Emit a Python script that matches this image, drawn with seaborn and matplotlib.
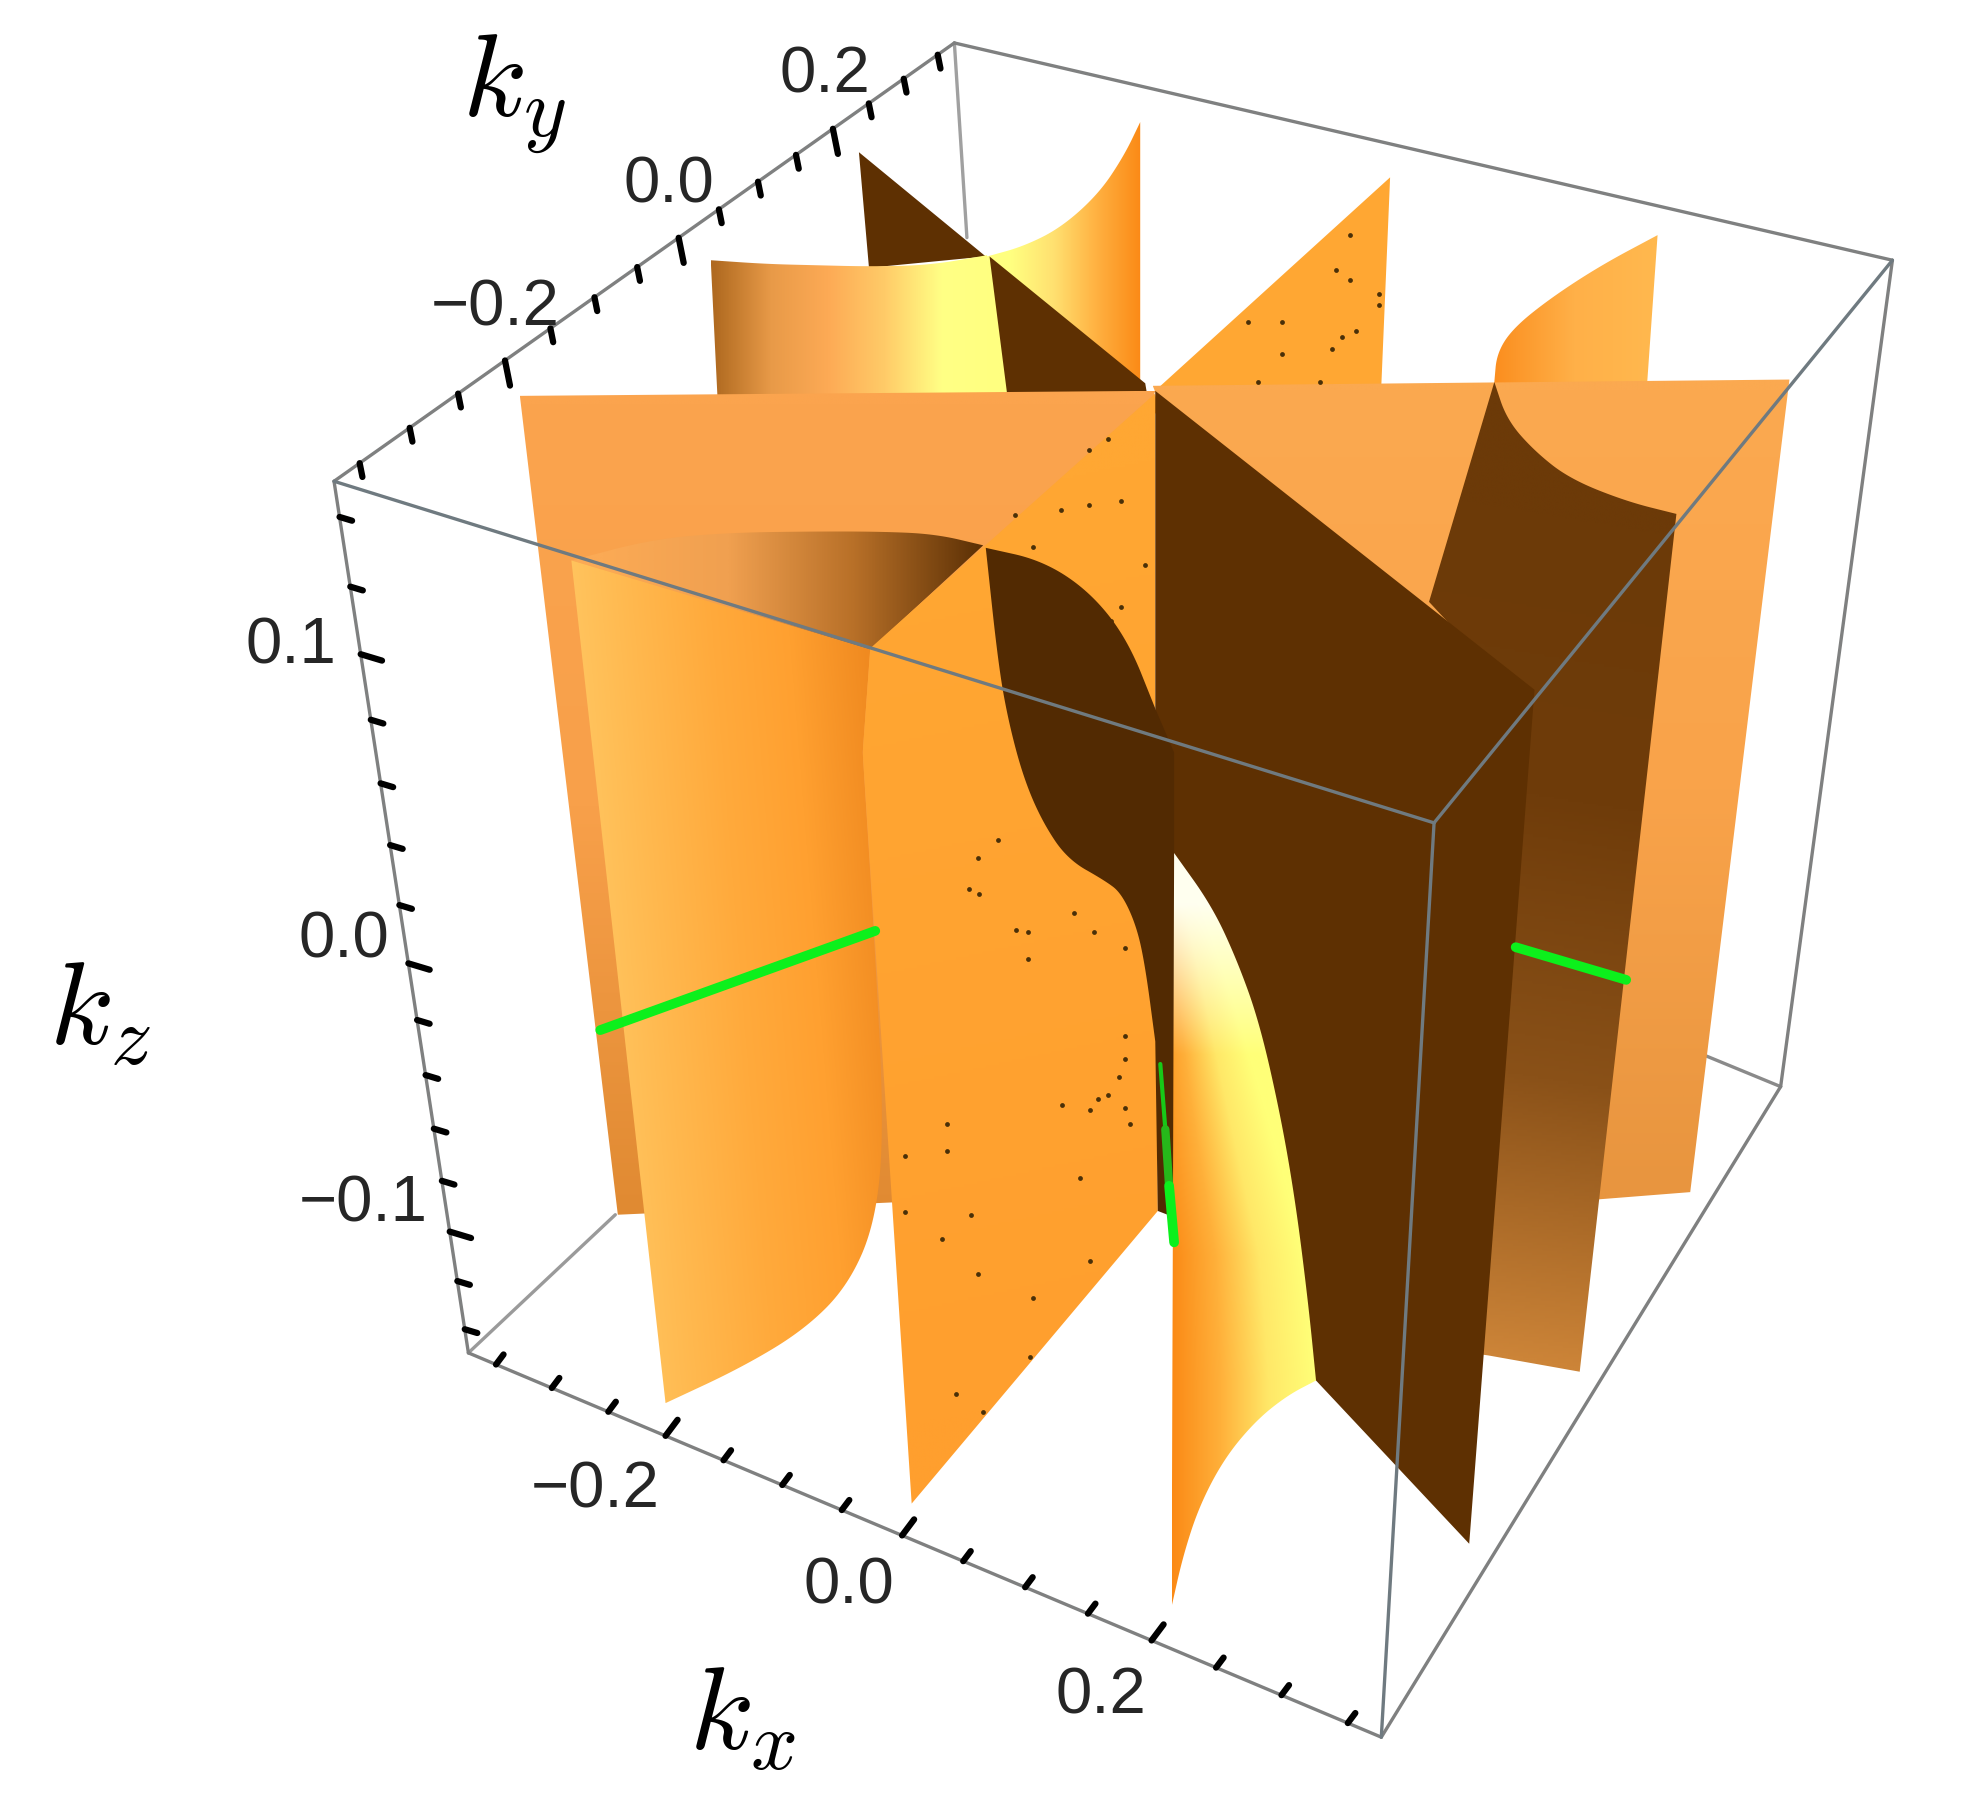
import numpy as np
import seaborn as sns
import matplotlib
matplotlib.use("Agg")
import matplotlib.pyplot as plt
from matplotlib.colors import LinearSegmentedColormap
from matplotlib.patches import Polygon

sns.set_theme(style="white")
plt.rcParams['font.family'] = ['Liberation Sans', 'DejaVu Sans']
plt.rcParams['mathtext.fontset'] = 'cm'

# box corners
A, B, C, D = (266, 384), (760, 35), (1507, 208), (1142, 656)
E, F, G = (373, 1078), (1100, 1384), (1418, 866)

x_ticks = np.arange(-0.35, 0.351, 0.05)
y_ticks = np.arange(-0.35, 0.351, 0.05)
z_ticks = np.arange(-0.14, 0.141, 0.02)
x_labels = ["\u22120.2", "0.0", "0.2"]
y_labels = ["\u22120.2", "0.0", "0.2"]
z_labels = ["0.1", "0.0", "\u22120.1"]

# sheet outlines, curved runs are kept apart from the straight ones
back_dark_x = [684, 785, 692]
back_dark_y = [122, 205, 214]
back_curve_x = [786, 815, 845, 875, 895, 908]
back_curve_y = [205, 197, 182, 155, 125, 98]
back_left_x = [566, 610, 650, 692, 740, 786]
back_left_y = [208, 211, 212, 213, 212, 204]
back_wedge_x = [788, 912, 916, 804]
back_wedge_y = [205, 306, 330, 330]
back_tri_x = [922, 1107, 1100, 1100, 916]
back_tri_y = [310, 142, 308, 330, 330]
back_right_x = [1190, 1192, 1205, 1235, 1275, 1320]
back_right_y = [305, 282, 262, 238, 212, 188]
flat_left_x = [414, 920, 715, 492]
flat_left_y = [316, 312, 958, 968]
flat_right_x = [918, 1425, 1346, 1270, 1180]
flat_right_y = [308, 303, 950, 956, 960]
right_curve_x = [1190, 1200, 1222, 1250, 1295, 1335]
right_curve_y = [305, 335, 360, 382, 400, 410]
cyl_top_x = [455, 520, 580, 640, 700, 745, 783]
cyl_top_y = [447, 430, 425, 424, 424, 426, 435]
cyl_edge_x = [687, 697, 704, 697, 675, 640, 590, 530]
cyl_edge_y = [600, 760, 900, 975, 1025, 1060, 1090, 1118]
mid_x = [920, 693, 687, 726, 922, 920]
mid_y = [314, 517, 600, 1198, 965, 565]
big_dark_x = [920, 1222, 1170, 1048, 935, 920]
big_dark_y = [312, 550, 1230, 1100, 970, 565]
s_top_x = [785, 830, 868, 898, 920]
s_top_y = [437, 447, 472, 510, 565]
s_side_x = [920, 912, 905, 893, 880, 850, 830, 815, 803, 795, 785]
s_side_y = [830, 770, 738, 712, 702, 685, 655, 620, 575, 530, 437]
front_edge_x = [935, 965, 985, 1003, 1020, 1032, 1042, 1048]
front_edge_y = [680, 722, 765, 815, 890, 960, 1040, 1100]
front_base_x = [1048, 1025, 1000, 975, 955, 942, 933]
front_base_y = [1100, 1112, 1132, 1162, 1200, 1240, 1280]

# green lines
green_left_x, green_left_y = [478, 697], [821, 742]
green_right_x, green_right_y = [1207, 1295], [755, 781]
green_mid_x, green_mid_y = [924, 928, 931, 935], [848, 900, 945, 990]

# specks on the orange sheets
dots_x = [1075, 1064, 1075, 1098, 1098, 994, 1021, 1069, 1080, 1061, 1021, 1002, 1051,
          882, 867, 845, 867, 893, 808, 823, 912, 893, 885,
          795, 779, 772, 780, 809, 819, 819, 855, 871, 896, 896, 896, 891, 882, 874, 868,
          846, 896, 900, 754, 754, 721, 721, 750, 773, 860, 868, 779, 823, 820, 761, 783]
dots_y = [188, 216, 224, 235, 244, 257, 257, 269, 264, 279, 283, 305, 305,
          350, 359, 407, 403, 400, 411, 436, 451, 484, 495,
          670, 684, 709, 713, 741, 743, 764, 728, 743, 756, 826, 844, 858, 873, 876, 885,
          881, 883, 896, 896, 917, 921, 966, 987, 968, 939, 1005, 1015, 1034, 1081, 1111, 1125]


def smooth(xs, ys, n=4):
    # corner cutting, the two end points stay where they are
    pts = np.column_stack([xs, ys]).astype(float)
    for _ in range(n):
        a, b = pts[:-1], pts[1:]
        cut = np.empty((2 * len(a), 2))
        cut[0::2] = 0.75 * a + 0.25 * b
        cut[1::2] = 0.25 * a + 0.75 * b
        pts = np.vstack([pts[0], cut, pts[-1]])
    return pts


def clip_image(ax, outline, rgba, z):
    poly = Polygon(outline, closed=True, transform=ax.transData, fc="none", ec="none")
    ax.add_patch(poly)
    x0, y0 = outline.min(axis=0)
    x1, y1 = outline.max(axis=0)
    im = ax.imshow(rgba, extent=(x0, x1, y1, y0), aspect="auto", zorder=z, interpolation="bilinear")
    im.set_clip_path(poly)


def shade(ax, outline, stops, start, end, z):
    # polygon filled with a linear gradient from start to end
    x0, y0 = outline.min(axis=0)
    x1, y1 = outline.max(axis=0)
    gx, gy = np.meshgrid(np.linspace(x0, x1, 400), np.linspace(y0, y1, 400))
    dx, dy = end[0] - start[0], end[1] - start[1]
    t = ((gx - start[0]) * dx + (gy - start[1]) * dy) / (dx * dx + dy * dy)
    cmap = LinearSegmentedColormap.from_list("s", stops)
    clip_image(ax, outline, cmap(np.clip(t, 0, 1)), z)


def pts(xs, ys):
    return np.column_stack([xs, ys]).astype(float)


def along(p, q, t, lim, k):
    # position of value t on a box edge, with a bit of perspective
    s = (t + lim) / (2 * lim)
    s = s / (s + k * (1 - s))
    return p[0] + s * (q[0] - p[0]), p[1] + s * (q[1] - p[1])


def edge(ax, p, q, color="#7f8080", lw=2.4, z=20):
    sns.lineplot(x=[p[0], q[0]], y=[p[1], q[1]], color=color, linewidth=lw, ax=ax,
                 sort=False, estimator=None, zorder=z, legend=False)


fig = plt.figure(figsize=(19.69, 18.06), dpi=100)
ax = fig.add_axes([0, 0, 1, 1])

# box edges behind the sheets
edge(ax, B, (770, 190), color="#a0a0a0", z=1)
edge(ax, E, (490, 968), color="#9a9a9a", z=1)
edge(ax, G, (1350, 838), color="#8a8a8a", z=1)

ax.fill(back_dark_x, back_dark_y, color="#5e3002", lw=0, zorder=2)
out = np.vstack([smooth(back_curve_x, back_curve_y), [[908, 330], [800, 330]]])
shade(ax, out, ["#ffff80", "#ffe070", "#ffb040", "#fb8a16"], (805, 200), (908, 200), 2)
out = np.vstack([smooth(back_left_x, back_left_y), [[806, 330], [572, 330]]])
shade(ax, out, ["#b06a20", "#e89a48", "#fdaa55", "#ffcb68", "#ffff85", "#ffff80"], (568, 260), (795, 260), 3)
ax.fill(back_wedge_x, back_wedge_y, color="#5e3002", lw=0, zorder=3)
ax.fill(back_tri_x, back_tri_y, color="#ffa733", lw=0, zorder=3)
out = np.vstack([smooth(back_right_x, back_right_y), [[1310, 330], [1186, 330]]])
shade(ax, out, ["#fb8f20", "#ffb048", "#ffb84e"], (1192, 260), (1315, 260), 3)

shade(ax, pts(flat_left_x, flat_left_y), ["#fba44e", "#f8a04a", "#e08a32"], (600, 320), (600, 968), 4)
shade(ax, pts(flat_right_x, flat_right_y), ["#fba950", "#f9a34a", "#e8953f"], (1300, 310), (1300, 950), 4)
out = np.vstack([smooth(right_curve_x, right_curve_y), [[1258, 1093], [1185, 1080], [1170, 1078], [1205, 552], [1138, 480]]])
shade(ax, out, ["#6c3a08", "#6f3c0a", "#8a5118", "#cc8438"], (1300, 420), (1190, 1080), 5)

out = np.vstack([smooth(cyl_top_x, cyl_top_y), [[693, 518]]])
shade(ax, out, ["#fbaa55", "#f0a050", "#b87028", "#5e3206"], (480, 430), (780, 430), 6)
out = np.vstack([[[455, 447], [693, 518]], smooth(cyl_edge_x, cyl_edge_y)])
shade(ax, out, ["#ffc762", "#ffb84e", "#ffaa3c", "#ffa030", "#f08a20"], (460, 700), (705, 680), 6)
shade(ax, pts(mid_x, mid_y), ["#ffa733", "#ff9f2e"], (750, 400), (900, 1100), 7)
sns.scatterplot(x=dots_x, y=dots_y, s=12, color="#4a3008", linewidth=0, ax=ax, zorder=8, legend=False)

ax.fill(big_dark_x, big_dark_y, color="#5e3002", lw=0, zorder=9)
s_out = np.vstack([smooth(s_top_x, s_top_y), [[935, 600], [935, 970], [922, 965]], smooth(s_side_x, s_side_y)])
ax.fill(s_out[:, 0], s_out[:, 1], color="#522a02", lw=0, zorder=9)

# the bright front sheet: orange to yellow across it, cream near the tip
edge_pts = smooth(front_edge_x, front_edge_y)
base_pts = smooth(front_base_x, front_base_y)
out = np.vstack([edge_pts, base_pts])
fx, fy = np.meshgrid(np.linspace(933, 1048, 400), np.linspace(680, 1280, 600))
right = np.interp(fy, edge_pts[:, 1], edge_pts[:, 0])
u = (fx - 933) / (right - 933)
u = u + np.clip((1000 - fy) / 400, 0, 1) * 0.5
cmap = LinearSegmentedColormap.from_list("f", ["#fb8a16", "#ffb03a", "#ffe868", "#ffff78"])
rgba = cmap(np.clip(u, 0, 1))
cream = np.clip((840 - fy) / 120, 0, 1)[..., None]
rgba[..., :3] = rgba[..., :3] * (1 - cream) + np.array([1.0, 1.0, 0.94]) * cream
clip_image(ax, out, rgba, 10)

# green lines
for gx, gy, lw in [(green_left_x, green_left_y, 7), (green_right_x, green_right_y, 7)]:
    sns.lineplot(x=gx, y=gy, color="#0cf01c", linewidth=lw, ax=ax, sort=False,
                 estimator=None, zorder=11, legend=False)
sns.lineplot(x=green_mid_x[:2], y=green_mid_y[:2], color="#18c818", linewidth=3, ax=ax, sort=False,
             estimator=None, zorder=11, legend=False)
sns.lineplot(x=green_mid_x[1:3], y=green_mid_y[1:3], color="#26b81a", linewidth=6, ax=ax, sort=False,
             estimator=None, zorder=11, legend=False)
sns.lineplot(x=green_mid_x[2:], y=green_mid_y[2:], color="#0cf01c", linewidth=7, ax=ax, sort=False,
             estimator=None, zorder=11, legend=False)

# box edges in front
for p, q in [(A, B), (B, C), (A, E), (E, F), (F, G), (C, G)]:
    edge(ax, p, q)
for p, q in [(A, D), (D, C), (D, F)]:
    edge(ax, p, q, color="#6f7a80")

# ticks along the edges
for t in x_ticks:
    px, py = along(E, F, t, 0.375, 1.105)
    n = 1.6 if abs(t / 0.2 - round(t / 0.2)) < 1e-6 else 1
    edge(ax, (px, py), (px + 6 * n, py - 8 * n), color="black", lw=4.5, z=21)
for t in y_ticks:
    px, py = along(A, B, t, 0.375, 0.80)
    n = 2 if abs(t / 0.2 - round(t / 0.2)) < 1e-6 else 1.1
    edge(ax, (px, py), (px + 2 * n, py + 10 * n), color="black", lw=4.5, z=21)
for t in z_ticks:
    px, py = along(A, E, t, 0.15, 0.808)
    n = 1.7 if abs(t / 0.1 - round(t / 0.1)) < 1e-6 else 1
    edge(ax, (px, py), (px + 10 * n, py + 3 * n), color="black", lw=4.5, z=21)

# tick labels
tick_txt = dict(fontsize=47, color="#262626", ha="center", va="center", zorder=22)
for s, tx, ty in zip(x_labels, [474, 676, 877], [1187, 1263, 1351]):
    ax.text(tx, ty, s, **tick_txt)
for s, tx, ty in zip(y_labels, [394, 533, 657], [246, 148, 60]):
    ax.text(tx, ty, s, **tick_txt)
for s, tx, ty in zip(z_labels, [232, 274, 289], [515, 749, 959]):
    ax.text(tx, ty, s, **tick_txt)

# axis labels
label_txt = dict(fontsize=85, color="black", ha="center", va="center", zorder=22)
ax.text(591, 1369, r"$k_x$", **label_txt)
ax.text(409, 75, r"$k_y$", **label_txt)
ax.text(80, 808, r"$k_z$", **label_txt)

ax.set_xlim(0, 1568)
ax.set_ylim(1438, 0)
ax.set_axis_off()
fig.savefig("out.png", dpi=100, facecolor="white")
